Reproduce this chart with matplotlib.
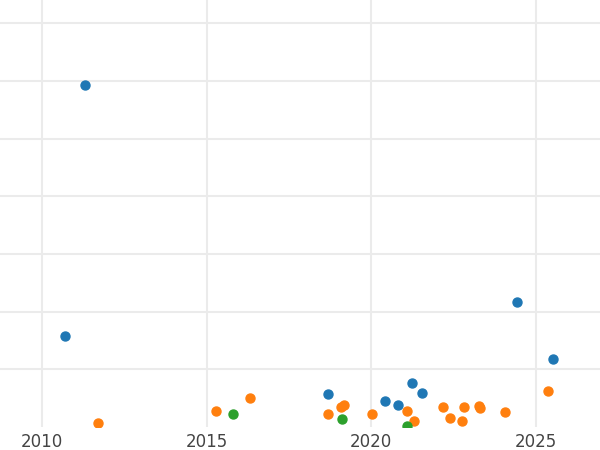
import matplotlib.pyplot as plt

# values (year, value)
blue_x = [2011.31, 2010.70, 2024.41, 2025.50, 2018.69, 2020.40, 2020.82, 2021.22, 2021.55]
blue_y = [5.93, 1.58, 2.17, 1.18, 0.57, 0.45, 0.38, 0.76, 0.59]

orange_x = [2011.70, 2015.29, 2016.32, 2018.69, 2019.09, 2019.18, 2020.03, 2021.09,
            2021.28, 2022.16, 2022.40, 2022.74, 2022.80, 2023.28, 2023.31, 2024.07, 2025.35]
orange_y = [0.07, 0.28, 0.50, 0.23, 0.35, 0.39, 0.23, 0.27,
            0.10, 0.34, 0.15, 0.10, 0.34, 0.37, 0.33, 0.26, 0.63]

green_x = [2015.81, 2019.12, 2021.09]
green_y = [0.23, 0.14, 0.01]

x_ticks = [2010, 2015, 2020, 2025]
y_ticks = [1, 2, 3, 4, 5, 6, 7]


def render():
    fig = plt.figure(figsize=(6, 4.5), dpi=100)
    ax = fig.add_axes([0, 0.051, 1, 0.949])

    ax.scatter(blue_x, blue_y, s=42, color='#1f77b4', zorder=3)
    ax.scatter(orange_x, orange_y, s=42, color='#ff7f0e', zorder=3)
    ax.scatter(green_x, green_y, s=42, color='#2ca02c', zorder=3)

    ax.set_xlim(2008.73, 2026.94)
    ax.set_ylim(0, 7.4)
    ax.set_xticks(x_ticks)
    ax.set_yticks(y_ticks)
    ax.set_yticklabels([])
    ax.tick_params(length=0, labelsize=12, labelcolor='#444444', pad=4)
    ax.grid(True, color='#ebebeb', linewidth=1.5)
    ax.set_axisbelow(True)
    for s in ax.spines.values():
        s.set_visible(False)

    fig.savefig('out.png', dpi=100)


if __name__ == "__main__":
    render()
